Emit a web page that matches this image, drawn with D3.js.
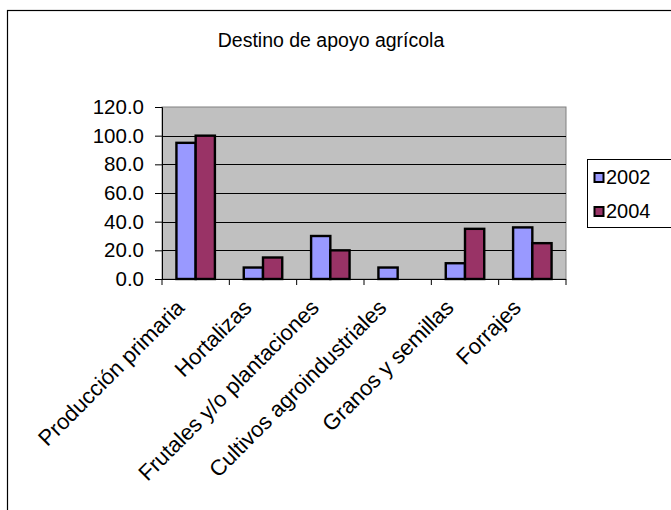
<!DOCTYPE html>
<html><head><meta charset="utf-8">
<script src="https://cdn.jsdelivr.net/npm/d3@7"></script>
<style>
body{margin:0;background:#fff}
svg{display:block}
text{font-family:"Liberation Sans",Arial,sans-serif;fill:#000}
</style>
</head><body>
<svg id="chart" width="671" height="510"></svg>
<script>
// Data
const categories = ["Producción primaria", "Hortalizas", "Frutales y/o plantaciones",
  "Cultivos agroindustriales", "Granos y semillas", "Forrajes"];
const seriesNames = ["2002", "2004"];
const values2002 = [95, 8, 30, 8, 11, 36];
const values2004 = [100, 15, 20, 0, 35, 25];
const yTicks = [0, 20, 40, 60, 80, 100, 120];
const seriesColors = ["#9999FF", "#993366"];
const title = "Destino de apoyo agrícola";

const series = [values2002, values2004];

const svg = d3.select("#chart");
const W = 671, H = 510;
const plot = {left: 162, right: 566, top: 107, bottom: 279};

// Outer chart frame (continues past the right and bottom edges)
svg.append("rect")
  .attr("x", 7.5).attr("y", 10.5)
  .attr("width", W + 20).attr("height", H + 20)
  .attr("fill", "#fff").attr("stroke", "#000").attr("stroke-width", 1.2);

// Title
svg.append("text")
  .attr("x", 331).attr("y", 47)
  .attr("text-anchor", "middle")
  .style("font-size", "19.5px")
  .text(title);

// Scales
const x = d3.scaleBand().domain(categories).range([plot.left, plot.right]);
const y = d3.scaleLinear().domain([0, 120]).range([plot.bottom, plot.top]);
const barW = x.bandwidth() / 3.5;

// Plot background
svg.append("rect")
  .attr("x", plot.left).attr("y", plot.top)
  .attr("width", plot.right - plot.left).attr("height", plot.bottom - plot.top)
  .attr("fill", "#C0C0C0").attr("stroke", "#808080").attr("stroke-width", 1);

// Gridlines
svg.append("g").selectAll("line")
  .data(yTicks.filter(t => t > 0 && t < 120))
  .join("line")
  .attr("x1", plot.left).attr("x2", plot.right)
  .attr("y1", d => Math.round(y(d)) + 0.5).attr("y2", d => Math.round(y(d)) + 0.5)
  .attr("stroke", "#000").attr("stroke-width", 1);

// Bars
const groups = svg.append("g").selectAll("g")
  .data(categories)
  .join("g");
groups.selectAll("rect")
  .data((c, i) => series.map((s, k) => ({k, v: s[i], c})))
  .join("rect")
  .filter(d => d.v > 0)
  .attr("x", d => x(d.c) + x.bandwidth() / 2 - barW + d.k * barW)
  .attr("y", d => y(d.v))
  .attr("width", barW)
  .attr("height", d => y(0) - y(d.v))
  .attr("fill", d => seriesColors[d.k])
  .attr("stroke", "#000").attr("stroke-width", 2.4);

// Y axis
const yAxis = d3.axisLeft(y).tickValues(yTicks).tickFormat(d3.format(".1f")).tickSize(7).tickPadding(11);
const gy = svg.append("g").attr("transform", `translate(${plot.left},0)`).call(yAxis);
gy.select(".domain").attr("stroke", "#000");
gy.selectAll(".tick line").attr("stroke", "#000");
gy.selectAll("text").style("font-size", "20.5px").attr("font-family", null);

// X axis: ticks at category boundaries
const xAxisG = svg.append("g").attr("transform", `translate(0,${plot.bottom})`);
xAxisG.append("line")
  .attr("x1", plot.left).attr("x2", plot.right)
  .attr("y1", 0.5).attr("y2", 0.5).attr("stroke", "#000");
const bounds = categories.map(c => x(c)).concat([plot.right]);
xAxisG.selectAll("line.tk").data(bounds).join("line").attr("class", "tk")
  .attr("x1", d => d).attr("x2", d => d)
  .attr("y1", 0).attr("y2", 6).attr("stroke", "#000");

// Rotated category labels
svg.append("g").selectAll("text")
  .data(categories)
  .join("text")
  .attr("text-anchor", "end")
  .attr("transform", d => `translate(${x(d) + x.bandwidth() / 2 - 10},${plot.bottom + 30}) rotate(-45)`)
  .style("font-size", "22px")
  .text(d => d);

// Legend
const lg = svg.append("g").attr("transform", "translate(587,159)");
lg.append("rect").attr("x", 0.5).attr("y", 0.5).attr("width", 120).attr("height", 68)
  .attr("fill", "#fff").attr("stroke", "#000").attr("stroke-width", 1);
const items = lg.selectAll("g.item").data(seriesNames).join("g").attr("class", "item")
  .attr("transform", (d, i) => `translate(0,${i * 34})`);
items.append("rect")
  .attr("x", 7.5).attr("y", 14).attr("width", 9).attr("height", 9)
  .attr("fill", (d, i) => seriesColors[i]).attr("stroke", "#000").attr("stroke-width", 2);
items.append("text")
  .attr("x", 19).attr("y", 25)
  .style("font-size", "20px")
  .text(d => d);
</script>
</body></html>
